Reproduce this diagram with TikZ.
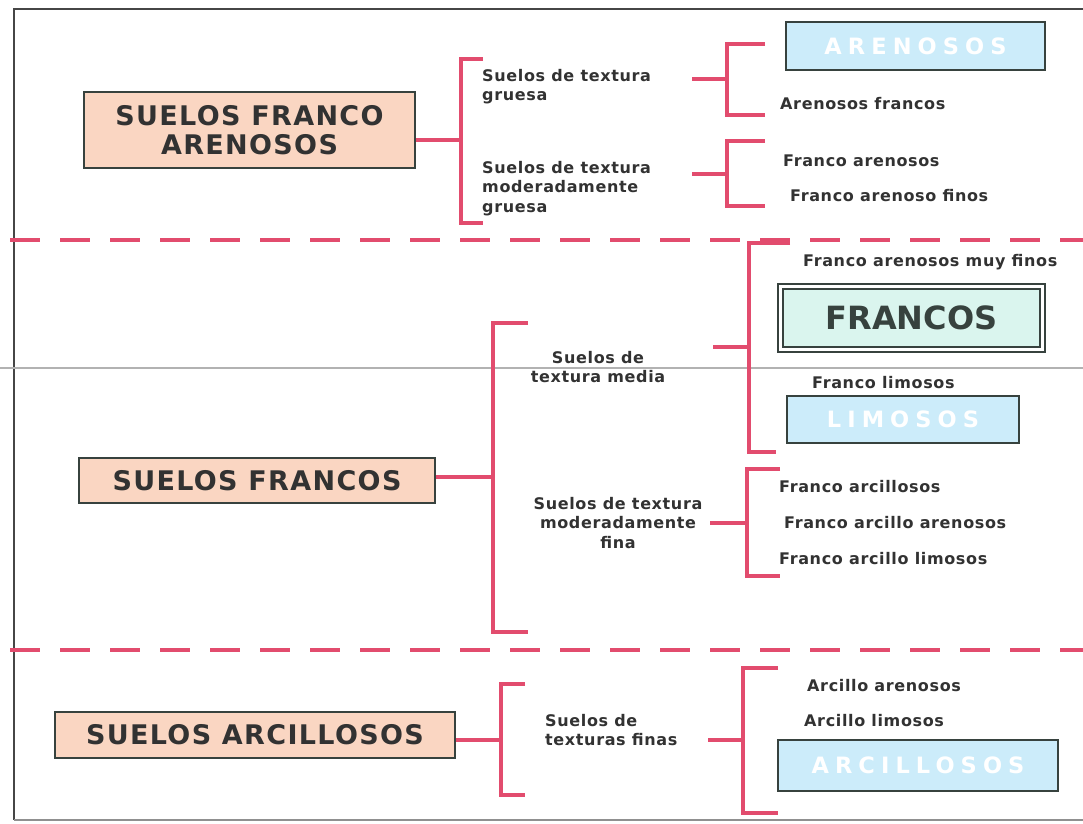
\documentclass[tikz,border=0pt]{standalone}
\usepackage{fontspec}
\setmainfont{DejaVu Sans}
\newfontfamily\spaced{DejaVu Sans}[LetterSpace=27]
\newfontfamily\lspaced{DejaVu Sans}[LetterSpace=4]
\newfontfamily\mspaced{DejaVu Sans}[LetterSpace=5]
\definecolor{pinkc}{RGB}{226,76,110}
\definecolor{bordc}{RGB}{55,66,62}
\definecolor{peach}{RGB}{250,214,194}
\definecolor{lblue}{RGB}{204,236,250}
\definecolor{lteal}{RGB}{218,245,238}
\definecolor{txt}{RGB}{50,50,50}
\definecolor{framec}{RGB}{70,70,70}
\tikzset{
  mainbox/.style={draw=bordc, line width=2.5pt, fill=peach, text=txt,
    font=\mspaced\fontsize{27}{29}\selectfont\bfseries, align=center, inner sep=0pt},
  bluebox/.style={draw=bordc, line width=2.5pt, fill=lblue, text=white,
    font=\spaced\fontsize{22.5}{26}\selectfont\bfseries, inner sep=0pt},
  lbl/.style={text=txt, font=\lspaced\fontsize{16}{19.5}\selectfont\bfseries, inner sep=0pt},
  br/.style={draw=pinkc, line width=3.5pt},
  sep/.style={draw=pinkc, line width=4.5pt, dash pattern=on 30pt off 20pt},
}
\begin{document}
\begin{tikzpicture}[x=1pt,y=-1pt]
\useasboundingbox (0,0) rectangle (1083,823);
% frame
\draw[framec, line width=2pt] (1083,9) -- (14,9) -- (14,820);
\draw[framec!60, line width=1.5pt] (14,820) -- (1083,820);
\draw[gray!60, line width=1.2pt] (0,368) -- (1083,368);
% separators
\draw[sep] (10,240) -- (1083,240);
\draw[sep] (10,650) -- (1083,650);

% main boxes
\node[mainbox, minimum width=331pt, minimum height=76pt] (m1) at (249.5,130) {SUELOS FRANCO\\ARENOSOS};
\node[mainbox, minimum width=356pt, minimum height=45pt] (m2) at (257,480.5) {SUELOS FRANCOS};
\node[mainbox, minimum width=400pt, minimum height=46pt] (m3) at (255,735) {SUELOS ARCILLOSOS};

% blue boxes
\node[bluebox, minimum width=259pt, minimum height=48pt] (arenosos) at (915.5,46) {ARENOSOS};
\node[draw=bordc, line width=2.6pt, double=white, double distance=2.2pt, fill=lteal, text=bordc,
      font=\fontsize{32}{34}\selectfont\bfseries, inner sep=0pt,
      minimum width=262pt, minimum height=63pt] (francos) at (911.5,318) {FRANCOS};
\node[bluebox, minimum width=232pt, minimum height=47pt] (limosos) at (903,419.5) {LIMOSOS};
\node[bluebox, minimum width=280pt, minimum height=51pt] (arcillosos) at (918,765.5) {ARCILLOSOS};

% level-1 labels
\node[lbl, anchor=north west, align=left] (g1a) at (482,69) {Suelos de textura\\gruesa};
\node[lbl, anchor=north west, align=left] (g1b) at (482,161) {Suelos de textura\\moderadamente\\gruesa};
\node[lbl, anchor=north, align=center] (g2a) at (598,351) {Suelos de\\textura media};
\node[lbl, anchor=north, align=center] (g2b) at (618,497) {Suelos de textura\\moderadamente\\fina};
\node[lbl, anchor=north west, align=left] (g3a) at (545,714) {Suelos de\\texturas finas};

% leaf labels
\node[lbl, anchor=base west] (t1) at (780,109) {Arenosos francos};
\node[lbl, anchor=base west] (t2) at (783,166) {Franco arenosos};
\node[lbl, anchor=base west] (t3) at (790,201) {Franco arenoso finos};
\node[lbl, anchor=base west] (t4) at (803,266) {Franco arenosos muy finos};
\node[lbl, anchor=base west] (t5) at (812,388) {Franco limosos};
\node[lbl, anchor=base west] (t6) at (779,492) {Franco arcillosos};
\node[lbl, anchor=base west] (t7) at (784,528) {Franco arcillo arenosos};
\node[lbl, anchor=base west] (t8) at (779,564) {Franco arcillo limosos};
\node[lbl, anchor=base west] (t9) at (807,691) {Arcillo arenosos};
\node[lbl, anchor=base west] (t10) at (804,726) {Arcillo limosos};

% bracket junction coordinates
\coordinate (j1) at (461,140);
\coordinate (j1a) at (727,79);
\coordinate (j1b) at (727,174);
\coordinate (j2) at (493,477);
\coordinate (j2a) at (749,347);
\coordinate (j2b) at (747,523);
\coordinate (j3) at (501,740);
\coordinate (j3a) at (743,740);

% group 1
\draw[br] (m1.east |- j1) -- (j1);
\draw[br] (483,59) -- (461,59) -- (461,223) -- (483,223);
\draw[br] (692,79) -- (j1a);
\draw[br] (765,44) -- (727,44) -- (727,115) -- (765,115);
\draw[br] (692,174) -- (j1b);
\draw[br] (765,141) -- (727,141) -- (727,206) -- (765,206);

% group 2
\draw[br] (m2.east |- j2) -- (j2);
\draw[br] (528,323) -- (493,323) -- (493,632) -- (528,632);
\draw[br] (713,347) -- (j2a);
\draw[br] (790,243) -- (749,243) -- (749,452) -- (776,452);
\draw[br] (710,523) -- (j2b);
\draw[br] (780,469) -- (747,469) -- (747,576) -- (780,576);

% group 3
\draw[br] (m3.east |- j3) -- (j3);
\draw[br] (525,684) -- (501,684) -- (501,795) -- (525,795);
\draw[br] (708,740) -- (j3a);
\draw[br] (778,668) -- (743,668) -- (743,813) -- (778,813);
\end{tikzpicture}
\end{document}
